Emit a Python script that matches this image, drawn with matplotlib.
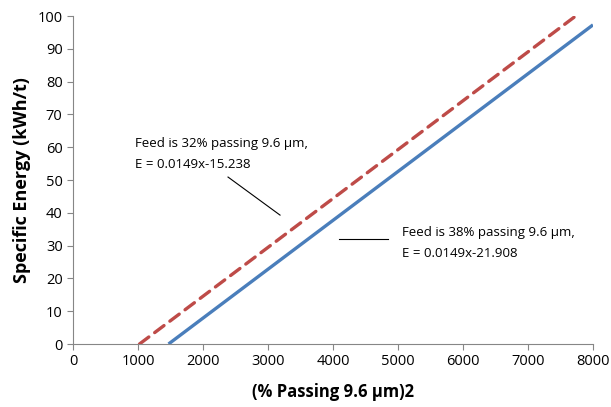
import numpy as np
import matplotlib.pyplot as plt

plt.rcParams['font.family'] = ['Open Sans', 'DejaVu Sans']

# line end points (E = 0.0149x + c)
feed38_x = [1470, 8000]
feed38_y = [0, 97.3]
feed32_x = [1023, 7734]
feed32_y = [0, 100]

xticks = [0, 1000, 2000, 3000, 4000, 5000, 6000, 7000, 8000]
yticks = [0, 10, 20, 30, 40, 50, 60, 70, 80, 90, 100]

fig = plt.figure(figsize=(6.11, 4.07), dpi=100)
ax = fig.add_axes([73/611, 1 - 344/407, 520/611, 328/407])

ax.plot(feed38_x, feed38_y, color='#4A7EBB', lw=2.4, solid_capstyle='butt')
ax.plot(feed32_x, feed32_y, color='#BE4B48', lw=2.4, dashes=(3.5, 2.2),
        dash_capstyle='round')

ax.set_xlim(0, 8000)
ax.set_ylim(0, 100)
ax.set_xticks(xticks)
ax.set_yticks(yticks)
ax.tick_params(labelsize=10.5, length=4, color='#868686', width=0.8)
for s in ['top', 'right']:
    ax.spines[s].set_visible(False)
for s in ['left', 'bottom']:
    ax.spines[s].set_color('#868686')
    ax.spines[s].set_linewidth(0.8)

ax.set_xlabel('(% Passing 9.6 µm)2', fontsize=12, fontweight='bold', labelpad=10)
ax.set_ylabel('Specific Energy (kWh/t)', fontsize=13, fontweight='bold', labelpad=5)

ax.text(954, 58, 'Feed is 32% passing 9.6 µm,\nE = 0.0149x-15.238',
        fontsize=9.5, va='center', ha='left', linespacing=1.75)
ax.plot([2385, 3185], [50.9, 39.3], color='black', lw=0.8)

ax.text(5062, 30.8, 'Feed is 38% passing 9.6 µm,\nE = 0.0149x-21.908',
        fontsize=9.5, va='center', ha='left', linespacing=1.75)
ax.plot([4092, 4846], [32.0, 32.0], color='black', lw=0.8)

plt.savefig('out.png', dpi=100)
